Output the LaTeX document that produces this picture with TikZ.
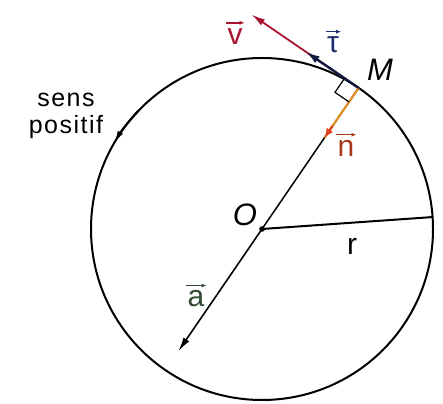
\documentclass[tikz,border=0pt]{standalone}
\usepackage{fontspec}
\setmainfont{Liberation Sans}
\usetikzlibrary{arrows.meta,calc}
\definecolor{vred}{HTML}{A8142F}
\definecolor{tblue}{HTML}{1C2C6E}
\definecolor{norange}{HTML}{E0902A}
\definecolor{ndot}{HTML}{E0401A}
\definecolor{nlab}{HTML}{A83A1C}
\definecolor{agreen}{HTML}{2F4A30}
\tikzset{
  lab/.style={inner sep=0pt, font=\fontsize{30}{30}\selectfont},
  ilab/.style={inner sep=0pt, font=\fontsize{31}{31}\selectfont\itshape},
  vecarr/.style={line width=1.3pt, -{Latex[length=5pt,width=4pt]}},
  bigtip/.style={-{Latex[length=14pt,width=7pt]}},
}
\begin{document}
\begin{tikzpicture}[x=1pt,y=1pt]
\useasboundingbox (0,0) rectangle (443,403);
\coordinate (O) at (262,174);
\coordinate (M) at ($(O)+(55.6:171)$);
\coordinate (R) at ($(O)+(4:171)$);
\coordinate (A) at ($(O)+(235.6:148)$);
\coordinate (N) at ($(O)+(55.6:111)$);
\coordinate (T) at ($(M)+(145.6:64)$);
\coordinate (V) at ($(M)+(145.6:130)$);
\coordinate (S1) at ($(M)+(145.6:17)$);
\coordinate (S3) at ($(M)+(235.6:17)$);
\coordinate (S2) at ($(S1)+(235.6:17)$);
% circle
\draw[line width=2pt] (O) circle[radius=171];
% sens positif arrow
\draw[line width=2pt, -{Latex[length=13pt,width=6pt]}] ($(O)+(136:171)$) arc[start angle=136, end angle=150, radius=171];
% radius r
\draw[line width=2pt] (O) -- (R);
% line O-M and acceleration
\draw[line width=1.5pt] (O) -- (M);
\draw[line width=1.6pt, bigtip] (O) -- (A);
% normal vector
\draw[line width=2.2pt, norange] (M) -- (N);
\draw[line width=2pt, ndot, -{Latex[length=9pt,width=8pt]}] ($(O)+(55.6:125)$) -- (N);
% right angle mark
\draw[line width=1.2pt] (S1) -- (S2) -- (S3);
% velocity and tangent unit vector
\draw[line width=1.8pt, vred, bigtip] (M) -- (V);
\draw[line width=2.4pt, tblue!60!black, -{Latex[length=14pt,width=8pt]}] (M) -- (T);
\fill (O) circle[radius=2.8];
% labels
\node[lab, vred] (lv) at (235,366) {v};
\draw[vecarr, vred] ([xshift=-1pt,yshift=6pt]lv.north west) -- ([xshift=2pt,yshift=6pt]lv.north east);
\node[lab, tblue] (lt) at (333,358) {τ};
\draw[vecarr, tblue] ([xshift=-1pt,yshift=5pt]lt.north west) -- ([xshift=2pt,yshift=5pt]lt.north east);
\node[ilab] (lM) at (380,333) {M};
\node[lab, nlab] (ln) at (346,255) {n};
\draw[vecarr, nlab] ([xshift=-1pt,yshift=5pt]ln.north west) -- ([xshift=2pt,yshift=5pt]ln.north east);
\node[ilab] (lO) at (245,188) {O};
\node[lab] (lr) at (352,157) {r};
\node[lab, agreen] (la) at (196,104) {a};
\draw[vecarr, agreen] ([xshift=-1pt,yshift=5pt]la.north west) -- ([xshift=2pt,yshift=5pt]la.north east);
\node[inner sep=0pt, align=center, font=\fontsize{25}{27}\selectfont\addfontfeature{LetterSpace=6}] (ls) at (66,287) {sens\\positif};
\end{tikzpicture}
\end{document}
